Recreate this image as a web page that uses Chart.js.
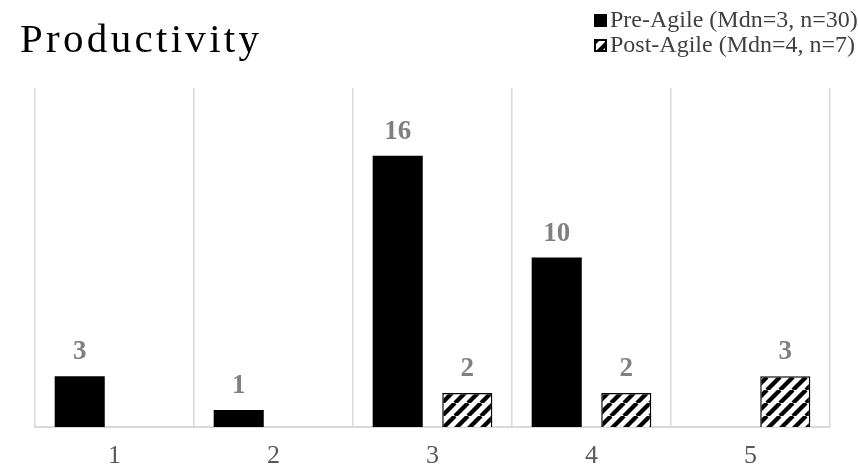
<!DOCTYPE html>
<html>
<head>
<meta charset="utf-8">
<script src="https://cdn.jsdelivr.net/npm/chart.js@4"></script>
<style>
  html, body { margin: 0; padding: 0; background: #fff; }
  #wrap { position: relative; width: 858px; height: 472px; }
</style>
</head>
<body>
<div id="wrap"><canvas id="c" width="858" height="472"></canvas></div>
<script>
// Ratings 1-5 and how many respondents chose each
const categories = ['1', '2', '3', '4', '5'];
const preAgile = [3, 1, 16, 10, 0];
const postAgile = [0, 0, 2, 2, 3];
const seriesNames = ['Pre-Agile (Mdn=3, n=30)', 'Post-Agile (Mdn=4, n=7)'];
const chartTitle = 'Productivity';

// Diagonal stripe fill for the post-agile bars
function makeHatch() {
  const s = 13;
  const p = document.createElement('canvas');
  p.width = s; p.height = s;
  const g = p.getContext('2d');
  g.fillStyle = '#fff';
  g.fillRect(0, 0, s, s);
  g.strokeStyle = '#000';
  g.lineWidth = 4.3;
  g.beginPath();
  for (let k = -1; k <= 1; k++) {
    g.moveTo(k * s, s);
    g.lineTo(k * s + s, 0);
  }
  g.stroke();
  return g.createPattern(p, 'repeat');
}
const ctxMain = document.getElementById('c').getContext('2d');
const hatch = makeHatch();

const serif = '"Liberation Serif", "Times New Roman", serif';

// Title, value labels above bars and the stacked legend at top right
const decorations = {
  id: 'decorations',
  afterDatasetsDraw(chart) {
    const ctx = chart.ctx;
    ctx.save();
    // value labels
    ctx.font = 'bold 27px ' + serif;
    ctx.fillStyle = '#808080';
    ctx.textAlign = 'center';
    ctx.textBaseline = 'alphabetic';
    chart.data.datasets.forEach((ds, i) => {
      const meta = chart.getDatasetMeta(i);
      meta.data.forEach((bar, j) => {
        const v = ds.data[j];
        if (v > 0) ctx.fillText(String(v), bar.x, bar.y - 17);
      });
    });
    // title
    ctx.font = '41px ' + serif;
    ctx.fillStyle = '#000';
    ctx.textAlign = 'left';
    ctx.letterSpacing = '3.3px';
    ctx.fillText(chartTitle, 20, 52);
    ctx.letterSpacing = '0px';
    // legend
    ctx.font = '24px ' + serif;
    const baselines = [27, 52];
    chart.data.datasets.forEach((ds, i) => {
      const y = baselines[i];
      const bx = 594, bs = 13;
      ctx.fillStyle = ds.backgroundColor;
      ctx.fillRect(bx, y - bs, bs, bs);
      ctx.strokeStyle = '#000';
      ctx.lineWidth = 2;
      ctx.strokeRect(bx + 1, y - bs + 1, bs - 2, bs - 2);
      ctx.fillStyle = '#404040';
      ctx.fillText(ds.label, 610, y);
    });
    ctx.restore();
  }
};

new Chart(ctxMain, {
  type: 'bar',
  data: {
    labels: categories,
    datasets: [
      {
        label: seriesNames[0],
        data: preAgile,
        backgroundColor: '#000',
        borderColor: '#000',
        borderWidth: 0
      },
      {
        label: seriesNames[1],
        data: postAgile,
        backgroundColor: hatch,
        borderColor: '#000',
        borderWidth: 1.5
      }
    ]
  },
  options: {
    responsive: false,
    animation: false,
    devicePixelRatio: 1,
    layout: { padding: { left: 35, right: 28, top: 88, bottom: 0 } },
    datasets: { bar: { categoryPercentage: 0.875, barPercentage: 0.72 } },
    plugins: {
      legend: { display: false },
      title: { display: false },
      tooltip: { enabled: false }
    },
    scales: {
      x: {
        grid: { display: true, color: '#d9d9d9', lineWidth: 1.5, drawTicks: false, offset: true },
        border: { display: true, color: '#d9d9d9', width: 2 },
        ticks: { color: '#595959', font: { family: serif, size: 26, lineHeight: 1 }, padding: 16 },
        // fixed band below the plot for the category labels
        afterFit(scale) { scale.height = 45; }
      },
      y: {
        display: false,
        min: 0,
        max: 20
      }
    }
  },
  plugins: [decorations]
});
</script>
</body>
</html>
